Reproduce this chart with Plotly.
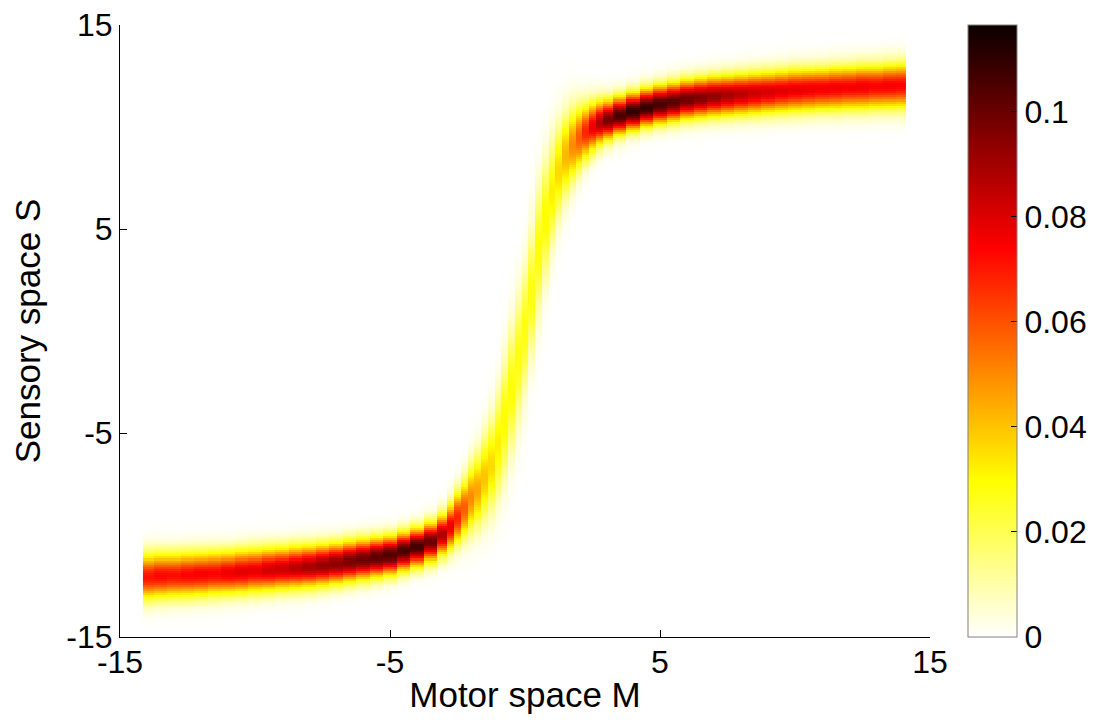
import numpy as np
import plotly.graph_objects as go

# Motor positions (column centres)
M_VALUES = [-14, -13.5, -13, -12.5, -12, -11.5, -11, -10.5, -10, -9.5, -9, -8.5,
            -8, -7.5, -7, -6.5, -6, -5.5, -5, -4.5, -4, -3.5, -3,
            -2.75, -2.5, -2.25, -2, -1.75, -1.5, -1.25, -1, -0.75, -0.5, -0.25,
            0, 0.25, 0.5, 0.75, 1, 1.25, 1.5, 1.75, 2, 2.25, 2.5, 2.75, 3,
            3.5, 4, 4.5, 5, 5.5, 6, 6.5, 7, 7.5, 8, 8.5, 9, 9.5, 10, 10.5,
            11, 11.5, 12, 12.5, 13, 13.5, 14]
# Centre of the sensory band for each motor column
S_CENTER = [-12.05, -12.0, -11.98, -11.95, -11.92, -11.88, -11.85, -11.8, -11.75, -11.7,
            -11.65, -11.6, -11.55, -11.48, -11.4, -11.3, -11.2, -11.1, -11.0,
            -10.8, -10.6, -10.35, -10.0,
            -9.6, -9.15, -8.7, -8.2, -7.8, -7.2, -6.6, -5.6, -4.4, -2.9, -1.4,
            0.0, 1.8, 3.9, 5.5, 6.8, 7.8, 8.6, 9.1, 9.45, 9.75, 10.0, 10.2, 10.35,
            10.55, 10.75, 10.95, 11.1, 11.22, 11.35, 11.43, 11.5, 11.55, 11.6, 11.65,
            11.7, 11.75, 11.8, 11.83, 11.86, 11.89, 11.92, 11.95, 11.97, 12.0, 12.02]
# Peak density in each column
PEAK = [0.071, 0.073, 0.072, 0.074, 0.075, 0.074, 0.077, 0.079, 0.078, 0.082,
        0.083, 0.086, 0.089, 0.092, 0.094, 0.097, 0.099, 0.102, 0.104,
        0.106, 0.107, 0.1, 0.088,
        0.078, 0.068, 0.058, 0.05, 0.045, 0.04, 0.036, 0.032, 0.03, 0.029, 0.028,
        0.028, 0.028, 0.029, 0.03, 0.032, 0.036, 0.042, 0.05, 0.058, 0.068, 0.078,
        0.088, 0.098,
        0.106, 0.11, 0.109, 0.106, 0.103, 0.099, 0.096, 0.093, 0.089, 0.086, 0.083,
        0.081, 0.079, 0.078, 0.077, 0.076, 0.076, 0.075, 0.076, 0.074, 0.075, 0.074]
# Spread of the band (S units) in each column
SPREAD = [0.74, 0.73, 0.72, 0.72, 0.71, 0.71, 0.7, 0.7, 0.7, 0.69, 0.68, 0.68,
          0.67, 0.66, 0.65, 0.64, 0.63, 0.62, 0.61, 0.6, 0.6, 0.62, 0.66,
          0.75, 0.85, 0.95, 1.1, 1.2, 1.35, 1.5, 1.7, 1.9, 2.0, 2.0,
          2.0, 2.0, 2.0, 1.9, 1.7, 1.5, 1.35, 1.2, 1.05, 0.9, 0.8, 0.72, 0.65,
          0.61, 0.6, 0.6, 0.61, 0.62, 0.63, 0.64, 0.65, 0.66, 0.67, 0.68, 0.68, 0.69,
          0.7, 0.7, 0.7, 0.71, 0.71, 0.72, 0.72, 0.73, 0.74]
M_START, M_END = -14.15, 14.1
Z_MAX = 0.1165
X_TICKS = [-15, -5, 5, 15]
Y_TICKS = [-15, -5, 5, 15]
CB_TICKS = [0, 0.02, 0.04, 0.06, 0.08, 0.1]
CB_LABELS = ["0", "0.02", "0.04", "0.06", "0.08", "0.1"]

assert len(M_VALUES) == len(S_CENTER) == len(PEAK) == len(SPREAD)

m = np.array(M_VALUES, dtype=float)
edges = np.concatenate([[M_START], (m[:-1] + m[1:]) / 2, [M_END]])
s_grid = np.arange(-15, 15.001, 0.1)
c = np.array(S_CENTER)[None, :]
p = np.array(PEAK)[None, :]
w = np.array(SPREAD)[None, :]
z = p * np.exp(-0.5 * ((s_grid[:, None] - c) / w) ** 2)

colorscale = [[0.0, "#ffffff"], [0.254, "#ffff00"], [0.635, "#ff0000"], [1.0, "#0b0000"]]
FONT = "Liberation Sans, Arial, sans-serif"

fig = go.Figure(go.Heatmap(
    x=edges, y=s_grid, z=z, zmin=0, zmax=Z_MAX, colorscale=colorscale,
    colorbar=dict(
        x=1.047, xanchor="left", xpad=0, y=0.5, yanchor="middle", len=1.0, lenmode="fraction",
        ypad=0, thickness=49, outlinecolor="#808080", outlinewidth=1,
        tickvals=CB_TICKS, ticktext=CB_LABELS, ticks="inside", ticklen=6,
        tickcolor="black", tickfont=dict(family=FONT, size=32, color="black"),
    ),
))

axis_common = dict(showgrid=False, zeroline=False, showline=True, linecolor="black",
                   linewidth=1, ticks="inside", ticklen=7, tickcolor="black", mirror=False,
                   automargin=False, ticklabeloverflow="allow",
                   tickfont=dict(family=FONT, size=32, color="black"))
# the page body adds an 8 px offset, so the figure is sized to fit the window exactly
fig.update_layout(
    width=1082, height=706,
    margin=dict(l=112, r=160, t=17, b=77, autoexpand=False),
    paper_bgcolor="white", plot_bgcolor="white",
    xaxis=dict(range=[-15, 15], tickvals=X_TICKS, ticktext=[str(v) for v in X_TICKS],
               ticklabelstandoff=-3,
               title=dict(text="Motor space M", font=dict(family=FONT, size=35, color="black"),
                          standoff=8), **axis_common),
    yaxis=dict(range=[-15, 15], tickvals=Y_TICKS, ticktext=[str(v) for v in Y_TICKS],
               title=dict(text="Sensory space S", font=dict(family=FONT, size=35, color="black"),
                          standoff=34), **axis_common),
)
fig.write_html("out.html")
